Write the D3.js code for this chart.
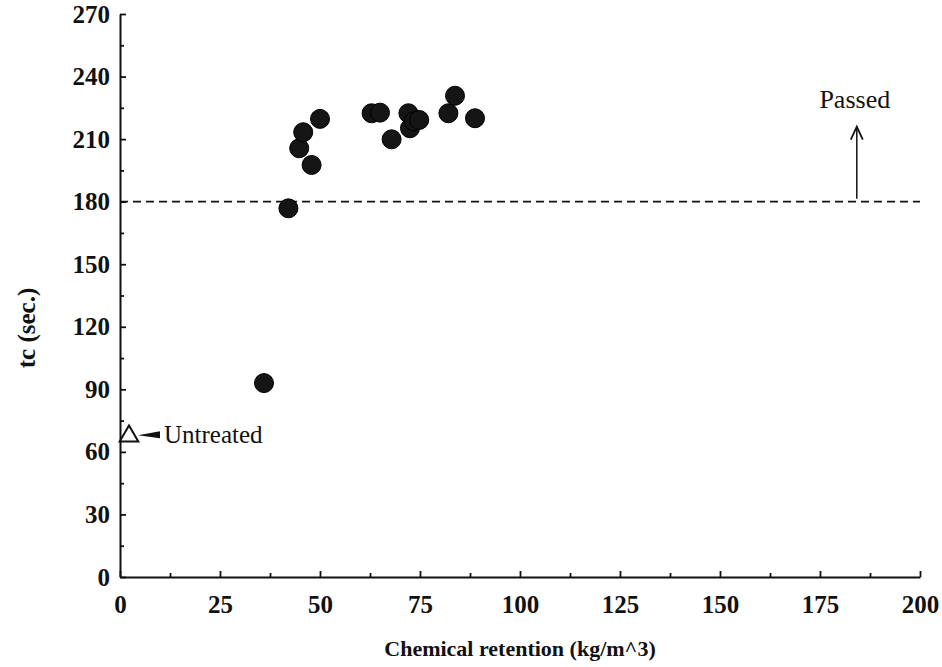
<!DOCTYPE html>
<html>
<head>
<meta charset="utf-8">
<script src="https://cdn.jsdelivr.net/npm/d3@7"></script>
<style>
  html, body { margin: 0; padding: 0; background: #fff; }
  svg { display: block; }
  text { font-family: "Liberation Serif", "Times New Roman", serif; fill: #111; }
</style>
</head>
<body>
<svg id="chart" width="942" height="667"></svg>
<script>
// ---- data ----
const retention = [36, 42.1, 44.8, 45.8, 47.9, 50, 62.9, 65, 67.9, 72.1, 72.5, 73.5, 74.8, 82.1, 83.75, 88.75];
const tcSeconds = [93, 176.8, 205.6, 213.3, 197.6, 219.7, 222.4, 222.7, 209.9, 222.4, 215.2, 218.5, 219.2, 222.4, 230.8, 220];
const untreatedX = [2];
const untreatedY = [67.5];
const passLimit = [180];
const xTicks = [0, 25, 50, 75, 100, 125, 150, 175, 200];
const yTicks = [0, 30, 60, 90, 120, 150, 180, 210, 240, 270];
const xMinorTicks = [12.5, 37.5, 62.5, 87.5, 112.5, 137.5, 162.5, 187.5];
const yMinorTicks = [15, 45, 75, 105, 135, 165, 195, 225, 255];
const xTitle = "Chemical retention (kg/m^3)";
const yTitle = "tc (sec.)";

// ---- layout ----
const svg = d3.select("#chart");
const x = d3.scaleLinear().domain([0, 200]).range([120, 920]);
const y = d3.scaleLinear().domain([0, 270]).range([577, 14]);
const ink = "#111";

// x axis
svg.append("g").attr("transform", `translate(0,${y(0)})`)
  .call(d3.axisBottom(x).tickValues(xTicks).tickSizeInner(-6).tickSizeOuter(0).tickPadding(18).tickFormat(d3.format("d")));
svg.append("g").attr("transform", `translate(0,${y(0)})`)
  .call(d3.axisBottom(x).tickValues(xMinorTicks).tickSizeInner(-4).tickSizeOuter(0).tickFormat(""))
  .select(".domain").remove();

// y axis
svg.append("g").attr("transform", `translate(${x(0)},0)`)
  .call(d3.axisLeft(y).tickValues(yTicks).tickSizeInner(-6).tickSizeOuter(0).tickPadding(10).tickFormat(d3.format("d")));
svg.append("g").attr("transform", `translate(${x(0)},0)`)
  .call(d3.axisLeft(y).tickValues(yMinorTicks).tickSizeInner(-4).tickSizeOuter(0).tickFormat(""))
  .select(".domain").remove();

svg.selectAll(".domain").attr("stroke", ink).attr("stroke-width", 2);
svg.selectAll(".tick line").attr("stroke", ink).attr("stroke-width", 1.8);
svg.selectAll(".tick text")
  .style("font-family", '"Liberation Serif", serif')
  .style("font-weight", "bold").style("font-size", "25px").attr("fill", ink);

// axis titles
svg.append("text").attr("x", 520).attr("y", 656).attr("text-anchor", "middle")
  .style("font-weight", "bold").style("font-size", "22px").text(xTitle);
svg.append("text").attr("transform", "translate(35,328) rotate(-90)").attr("text-anchor", "middle")
  .style("font-weight", "bold").style("font-size", "25px").text(yTitle);

// dashed pass line
svg.selectAll(".limit").data(passLimit).enter().append("line")
  .attr("x1", x(0)).attr("x2", x(200))
  .attr("y1", d => y(d)).attr("y2", d => y(d))
  .attr("stroke", ink).attr("stroke-width", 1.6).attr("stroke-dasharray", "8,5");

// Passed arrow + label
const ax = x(184.2);
svg.append("line").attr("x1", ax).attr("x2", ax).attr("y1", y(180) - 3).attr("y2", y(180) - 74)
  .attr("stroke", ink).attr("stroke-width", 1.5);
svg.append("path").attr("d", `M${ax - 6},${y(180) - 62} L${ax},${y(180) - 75} L${ax + 6},${y(180) - 62}`)
  .attr("fill", "none").attr("stroke", ink).attr("stroke-width", 1.8);
svg.append("text").attr("x", ax - 2).attr("y", 108).attr("text-anchor", "middle")
  .style("font-size", "26px").text("Passed");

// data points
svg.selectAll(".pt").data(retention).enter().append("circle")
  .attr("cx", d => x(d)).attr("cy", (d, i) => y(tcSeconds[i])).attr("r", 9.5)
  .attr("fill", "#151515").attr("stroke", "#000").attr("stroke-width", 1);

// untreated triangle
untreatedX.forEach((ux, i) => {
  const cx = x(ux), cy = y(untreatedY[i]);
  svg.append("path").attr("d", d3.symbol().type(d3.symbolTriangle).size(150)())
    .attr("transform", `translate(${cx + 1},${cy})`)
    .attr("fill", "#fff").attr("stroke", ink).attr("stroke-width", 2);
  // pointer
  svg.append("path").attr("d", `M${cx + 10},${cy - 1} L${cx + 32},${cy - 5} L${cx + 32},${cy + 2} Z`)
    .attr("fill", ink);
  svg.append("text").attr("x", cx + 36).attr("y", cy + 7)
    .style("font-size", "25px").text("Untreated");
});
</script>
</body>
</html>
